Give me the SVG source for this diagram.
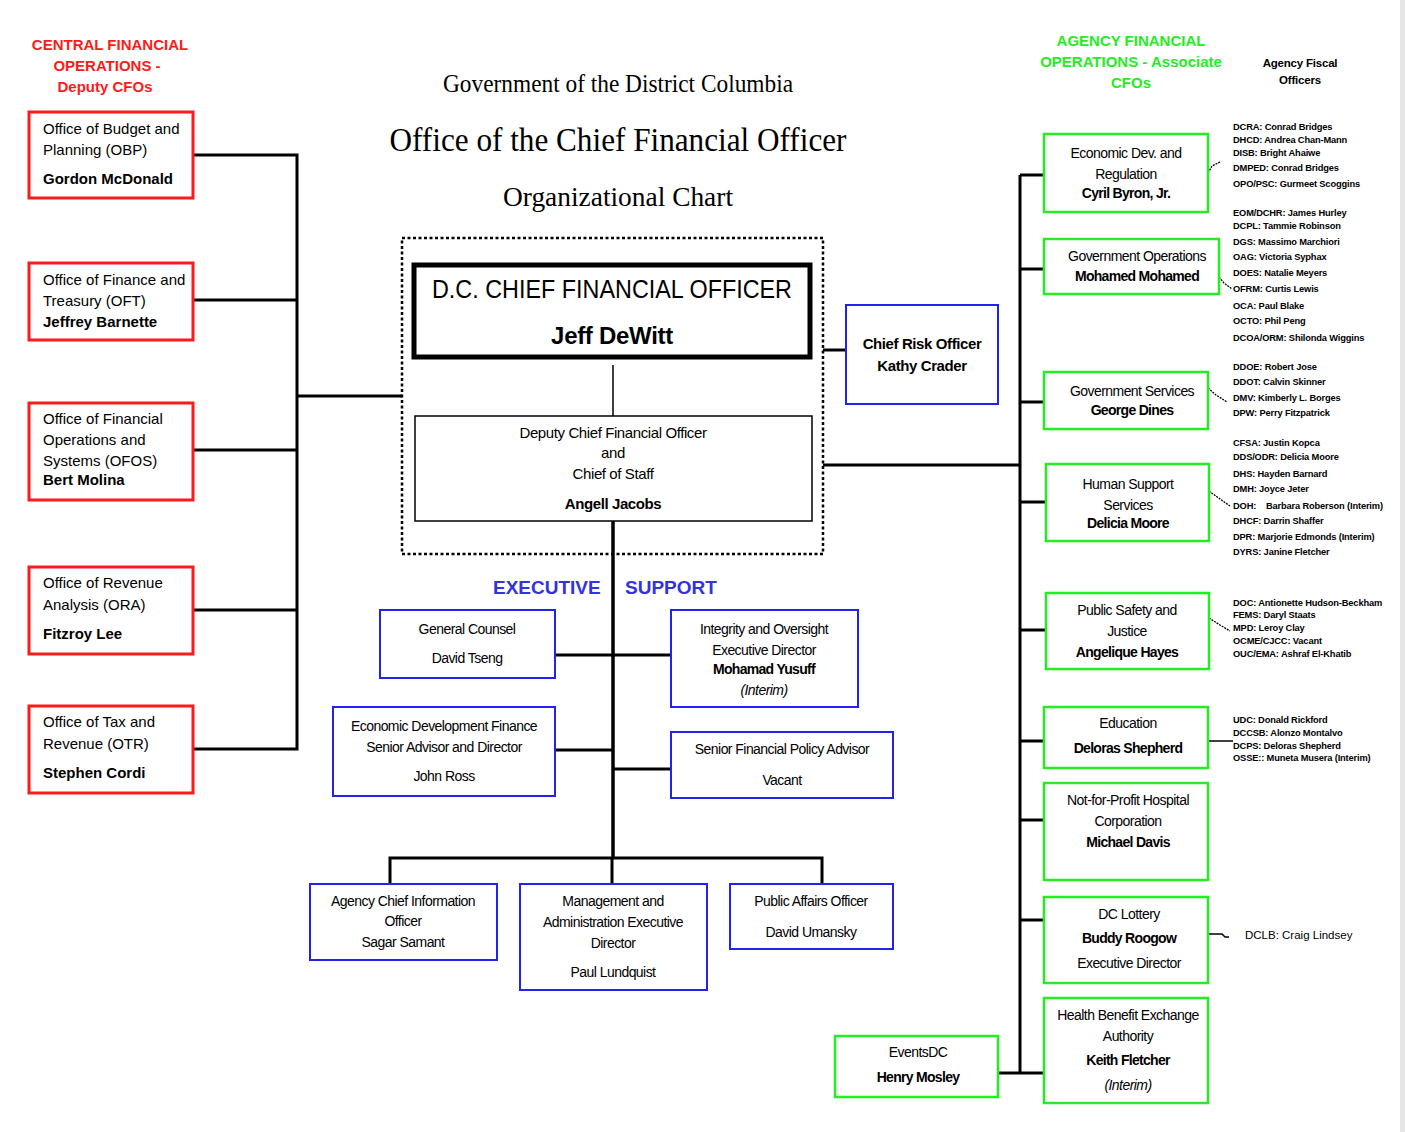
<svg xmlns="http://www.w3.org/2000/svg" width="1405" height="1132" viewBox="0 0 1405 1132">
<style>
text{font-family:"Liberation Sans",Arial,sans-serif;fill:#000}
.hdrR{font-size:15px;font-weight:bold;fill:#ff1a1a;text-anchor:middle}
.hdrG{font-size:15px;font-weight:bold;fill:#22ee22;text-anchor:middle}
.ttl{font-family:"Liberation Serif","Times New Roman",serif;text-anchor:middle}
.red{fill:#fff;stroke:#ff1a1a;stroke-width:3}
.blue{fill:#fff;stroke:#2222ee;stroke-width:2}
.green{fill:#fff;stroke:#22ee22;stroke-width:2.5}
.rt{font-size:15px}
.rb{font-size:15px;font-weight:bold}
.c{font-size:14px;text-anchor:middle;letter-spacing:-0.55px}
.cb{font-size:14px;text-anchor:middle;letter-spacing:-0.7px;font-weight:bold}
.ci{font-size:14px;text-anchor:middle;letter-spacing:-0.55px;font-style:italic}
.d{font-size:15px;text-anchor:middle;letter-spacing:-0.4px}
.db{font-size:15px;text-anchor:middle;letter-spacing:-0.4px;font-weight:bold}
.f{font-size:9.3px;font-weight:bold;letter-spacing:-0.15px}
.exe{font-size:19px;font-weight:bold;fill:#3333dd}
.conn{stroke:#000;stroke-width:3;fill:none}
.thin{stroke:#000;stroke-width:1.5;fill:none}
.sq{stroke:#000;stroke-width:1.3;fill:none;stroke-dasharray:2 1}
</style>
<rect width="1405" height="1132" fill="#fff"/>
<rect x="1400" y="0" width="5" height="1132" fill="#e6e6e6"/>

<g id="headers">
<text class="hdrR" x="110" y="50">CENTRAL FINANCIAL</text>
<text class="hdrR" x="107" y="71">OPERATIONS -</text>
<text class="hdrR" x="105" y="92">Deputy CFOs</text>
<text class="hdrG" x="1131" y="46">AGENCY FINANCIAL</text>
<text class="hdrG" x="1131" y="67">OPERATIONS - Associate</text>
<text class="hdrG" x="1131" y="88">CFOs</text>
<text x="1300" y="67" style="font-size:11.5px;font-weight:bold;text-anchor:middle;letter-spacing:-0.2px">Agency Fiscal</text>
<text x="1300" y="84" style="font-size:11.5px;font-weight:bold;text-anchor:middle;letter-spacing:-0.2px">Officers</text>
<text class="ttl" x="618" y="92" style="font-size:25px" textLength="350" lengthAdjust="spacingAndGlyphs">Government of the District Columbia</text>
<text class="ttl" x="618" y="151" style="font-size:33px" textLength="457" lengthAdjust="spacingAndGlyphs">Office of the Chief Financial Officer</text>
<text class="ttl" x="618" y="206" style="font-size:28px" textLength="230" lengthAdjust="spacingAndGlyphs">Organizational Chart</text>
<text class="exe" x="493" y="594">EXECUTIVE</text>
<text class="exe" x="625" y="594">SUPPORT</text>
</g>

<g id="connectors">
<polyline class="conn" points="193,155 297,155 297,749 193,749"/>
<line class="conn" x1="193" y1="300" x2="297" y2="300"/>
<line class="conn" x1="193" y1="450" x2="297" y2="450"/>
<line class="conn" x1="193" y1="610" x2="297" y2="610"/>
<line class="conn" x1="297" y1="396" x2="402" y2="396"/>
<line class="thin" x1="613" y1="365" x2="613" y2="416"/>
<line class="conn" x1="613" y1="521" x2="613" y2="858" style="stroke-width:3.5"/>
<polyline class="conn" points="390,884 390,858 822,858 822,884"/>
<line class="conn" x1="612" y1="858" x2="612" y2="884"/>
<line class="conn" x1="555" y1="655" x2="671" y2="655"/>
<line class="conn" x1="555" y1="750" x2="613" y2="750"/>
<line class="conn" x1="613" y1="769" x2="671" y2="769"/>
<line class="conn" x1="823" y1="350" x2="846" y2="350"/>
<line class="conn" x1="823" y1="465" x2="1020" y2="465"/>
<line class="conn" x1="1020" y1="175" x2="1020" y2="1073"/>
<line class="conn" x1="1020" y1="175" x2="1044" y2="175"/>
<line class="conn" x1="1020" y1="269" x2="1044" y2="269"/>
<line class="conn" x1="1020" y1="402" x2="1044" y2="402"/>
<line class="conn" x1="1020" y1="502" x2="1046" y2="502"/>
<line class="conn" x1="1020" y1="630" x2="1046" y2="630"/>
<line class="conn" x1="1020" y1="741" x2="1044" y2="741"/>
<line class="conn" x1="1020" y1="820" x2="1044" y2="820"/>
<line class="conn" x1="1020" y1="920" x2="1044" y2="920"/>
<line class="conn" x1="1020" y1="1073" x2="1044" y2="1073"/>
<line class="conn" x1="998" y1="1073" x2="1020" y2="1073"/>
<path class="sq" d="M1208,173 L1212,166 L1220,162"/>
<path class="sq" d="M1219,277 L1224,283 L1232,289"/>
<path class="sq" d="M1208,388 L1216,395 L1227,402"/>
<path class="sq" d="M1209,491 L1220,499 L1230,506"/>
<path class="sq" d="M1209,618 L1220,625 L1230,631"/>
<line class="thin" x1="1208" y1="741" x2="1233" y2="741"/>
<path class="thin" d="M1208,934 L1222,934 L1225,937 L1229,937"/>
</g>

<g id="obp"><rect class="red" x="29" y="112" width="164" height="86"/>
<text class="rt" x="43" y="134">Office of Budget and</text><text class="rt" x="43" y="155">Planning (OBP)</text><text class="rb" x="43" y="184">Gordon McDonald</text></g>
<g id="oft"><rect class="red" x="29" y="263" width="164" height="77"/>
<text class="rt" x="43" y="285">Office of Finance and</text><text class="rt" x="43" y="306">Treasury (OFT)</text><text class="rb" x="43" y="327">Jeffrey Barnette</text></g>
<g id="ofos"><rect class="red" x="29" y="403" width="164" height="97"/>
<text class="rt" x="43" y="424">Office of Financial</text><text class="rt" x="43" y="445">Operations and</text><text class="rt" x="43" y="466">Systems (OFOS)</text><text class="rb" x="43" y="485">Bert Molina</text></g>
<g id="ora"><rect class="red" x="29" y="567" width="164" height="87"/>
<text class="rt" x="43" y="588">Office of Revenue</text><text class="rt" x="43" y="610">Analysis (ORA)</text><text class="rb" x="43" y="639">Fitzroy Lee</text></g>
<g id="otr"><rect class="red" x="29" y="706" width="164" height="87"/>
<text class="rt" x="43" y="727">Office of Tax and</text><text class="rt" x="43" y="749">Revenue (OTR)</text><text class="rb" x="43" y="778">Stephen Cordi</text></g>

<g id="office-group"><rect x="402" y="238" width="421" height="316" fill="none" stroke="#000" stroke-width="2.5" stroke-dasharray="3 2.5"/></g>
<g id="cfo"><rect x="414" y="265" width="396" height="92" fill="#fff" stroke="#000" stroke-width="5"/>
<text x="612" y="298" style="font-size:25px;text-anchor:middle" textLength="360" lengthAdjust="spacingAndGlyphs">D.C. CHIEF FINANCIAL OFFICER</text>
<text x="612" y="344" style="font-size:24px;font-weight:bold;text-anchor:middle;letter-spacing:-0.3px">Jeff DeWitt</text></g>
<g id="deputy"><rect x="415" y="416" width="397" height="105" fill="#fff" stroke="#000" stroke-width="1.5"/>
<text class="d" x="613" y="438">Deputy Chief Financial Officer</text><text class="d" x="613" y="458">and</text><text class="d" x="613" y="479">Chief of Staff</text><text class="db" x="613" y="509">Angell Jacobs</text></g>
<g id="risk"><rect class="blue" x="846" y="305" width="152" height="99"/>
<text class="db" x="922" y="349">Chief Risk Officer</text><text class="db" x="922" y="371">Kathy Crader</text></g>

<g id="counsel"><rect class="blue" x="380" y="610" width="175" height="68"/>
<text class="c" x="467" y="634">General Counsel</text><text class="c" x="467" y="663">David Tseng</text></g>
<g id="integrity"><rect class="blue" x="671" y="610" width="187" height="97"/>
<text class="c" x="764" y="634">Integrity and Oversight</text><text class="c" x="764" y="655">Executive Director</text><text class="cb" x="764" y="674">Mohamad Yusuff</text><text class="ci" x="764" y="695">(Interim)</text></g>
<g id="edf"><rect class="blue" x="333" y="707" width="222" height="89"/>
<text class="c" x="444" y="731">Economic Development Finance</text><text class="c" x="444" y="752">Senior Advisor and Director</text><text class="c" x="444" y="781">John Ross</text></g>
<g id="sfpa"><rect class="blue" x="671" y="732" width="222" height="66"/>
<text class="c" x="782" y="754">Senior Financial Policy Advisor</text><text class="c" x="782" y="785">Vacant</text></g>
<g id="cio"><rect class="blue" x="310" y="884" width="187" height="76"/>
<text class="c" x="403" y="906">Agency Chief Information</text><text class="c" x="403" y="926">Officer</text><text class="c" x="403" y="947">Sagar Samant</text></g>
<g id="mgmt"><rect class="blue" x="520" y="884" width="187" height="106"/>
<text class="c" x="613" y="906">Management and</text><text class="c" x="613" y="927">Administration Executive</text><text class="c" x="613" y="948">Director</text><text class="c" x="613" y="977">Paul Lundquist</text></g>
<g id="pao"><rect class="blue" x="730" y="884" width="163" height="65"/>
<text class="c" x="811" y="906">Public Affairs Officer</text><text class="c" x="811" y="937">David Umansky</text></g>

<g id="econdev"><rect class="green" x="1044" y="134" width="164" height="78"/>
<text class="c" x="1126" y="158">Economic Dev. and</text><text class="c" x="1126" y="179">Regulation</text><text class="cb" x="1126" y="198">Cyril Byron, Jr.</text></g>
<g id="govops"><rect class="green" x="1044" y="239" width="175" height="55"/>
<text class="c" x="1137" y="261">Government Operations</text><text class="cb" x="1137" y="281">Mohamed Mohamed</text></g>
<g id="govserv"><rect class="green" x="1044" y="372" width="164" height="57"/>
<text class="c" x="1132" y="396">Government Services</text><text class="cb" x="1132" y="415">George Dines</text></g>
<g id="hss"><rect class="green" x="1046" y="464" width="163" height="77"/>
<text class="c" x="1128" y="489">Human Support</text><text class="c" x="1128" y="510">Services</text><text class="cb" x="1128" y="528">Delicia Moore</text></g>
<g id="psj"><rect class="green" x="1046" y="593" width="163" height="76"/>
<text class="c" x="1127" y="615">Public Safety and</text><text class="c" x="1127" y="636">Justice</text><text class="cb" x="1127" y="657">Angelique Hayes</text></g>
<g id="edu"><rect class="green" x="1044" y="707" width="164" height="61"/>
<text class="c" x="1128" y="728">Education</text><text class="cb" x="1128" y="753">Deloras Shepherd</text></g>
<g id="nfph"><rect class="green" x="1044" y="783" width="164" height="97"/>
<text class="c" x="1128" y="805">Not-for-Profit Hospital</text><text class="c" x="1128" y="826">Corporation</text><text class="cb" x="1128" y="847">Michael Davis</text></g>
<g id="lottery"><rect class="green" x="1044" y="897" width="164" height="86"/>
<text class="c" x="1129" y="919">DC Lottery</text><text class="cb" x="1129" y="943">Buddy Roogow</text><text class="c" x="1129" y="968">Executive Director</text></g>
<g id="hbx"><rect class="green" x="1044" y="998" width="164" height="105"/>
<text class="c" x="1128" y="1020">Health Benefit Exchange</text><text class="c" x="1128" y="1041">Authority</text><text class="cb" x="1128" y="1065">Keith Fletcher</text><text class="ci" x="1128" y="1090">(Interim)</text></g>
<g id="eventsdc"><rect class="green" x="835" y="1036" width="163" height="61"/>
<text class="c" x="918" y="1057">EventsDC</text><text class="cb" x="918" y="1082">Henry Mosley</text></g>

<g id="fiscal-officers">
<text class="f" x="1233" y="130">DCRA: Conrad Bridges</text>
<text class="f" x="1233" y="143">DHCD: Andrea Chan-Mann</text>
<text class="f" x="1233" y="156">DISB: Bright Ahaiwe</text>
<text class="f" x="1233" y="171">DMPED: Conrad Bridges</text>
<text class="f" x="1233" y="187">OPO/PSC: Gurmeet Scoggins</text>
<text class="f" x="1233" y="216">EOM/DCHR: James Hurley</text>
<text class="f" x="1233" y="229">DCPL: Tammie Robinson</text>
<text class="f" x="1233" y="245">DGS: Massimo  Marchiori</text>
<text class="f" x="1233" y="260">OAG: Victoria Syphax</text>
<text class="f" x="1233" y="276">DOES: Natalie Meyers</text>
<text class="f" x="1233" y="292">OFRM: Curtis Lewis</text>
<text class="f" x="1233" y="309">OCA: Paul Blake</text>
<text class="f" x="1233" y="324">OCTO: Phil Peng</text>
<text class="f" x="1233" y="341">DCOA/ORM: Shilonda Wiggins</text>
<text class="f" x="1233" y="370">DDOE: Robert Jose</text>
<text class="f" x="1233" y="385">DDOT: Calvin Skinner</text>
<text class="f" x="1233" y="401">DMV: Kimberly L. Borges</text>
<text class="f" x="1233" y="416">DPW:  Perry Fitzpatrick</text>
<text class="f" x="1233" y="446">CFSA: Justin Kopca</text>
<text class="f" x="1233" y="460">DDS/ODR: Delicia Moore</text>
<text class="f" x="1233" y="477">DHS: Hayden Barnard</text>
<text class="f" x="1233" y="492">DMH: Joyce Jeter</text>
<text class="f" x="1233" y="509" xml:space="preserve">DOH:    Barbara Roberson (Interim)</text>
<text class="f" x="1233" y="524">DHCF: Darrin Shaffer</text>
<text class="f" x="1233" y="540">DPR: Marjorie Edmonds (Interim)</text>
<text class="f" x="1233" y="555">DYRS: Janine Fletcher</text>
<text class="f" x="1233" y="606">DOC: Antionette Hudson-Beckham</text>
<text class="f" x="1233" y="618">FEMS: Daryl Staats</text>
<text class="f" x="1233" y="631">MPD: Leroy Clay</text>
<text class="f" x="1233" y="644">OCME/CJCC: Vacant</text>
<text class="f" x="1233" y="657">OUC/EMA: Ashraf El-Khatib</text>
<text class="f" x="1233" y="723">UDC: Donald Rickford</text>
<text class="f" x="1233" y="736">DCCSB: Alonzo Montalvo</text>
<text class="f" x="1233" y="749">DCPS: Deloras Shepherd</text>
<text class="f" x="1233" y="761">OSSE:: Muneta Musera  (Interim)</text>
<text x="1245" y="939" style="font-size:11.5px">DCLB: Craig Lindsey</text>
</g>
</svg>
